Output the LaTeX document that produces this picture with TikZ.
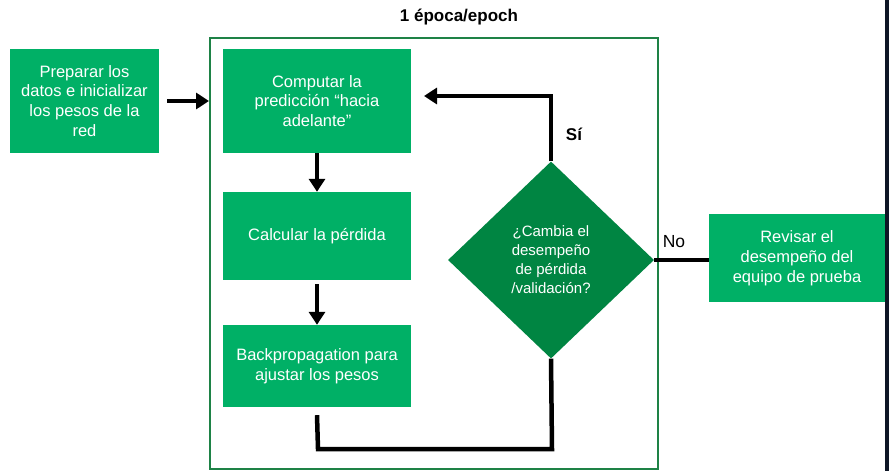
\documentclass[tikz,border=0pt]{standalone}
\usepackage{fontspec}
\setmainfont{Liberation Sans}
\usetikzlibrary{arrows.meta,shapes.geometric,calc}
\definecolor{boxgreen}{RGB}{0,176,102}
\definecolor{diagreen}{RGB}{0,133,66}
\definecolor{framegreen}{RGB}{30,130,70}
\definecolor{edgedark}{RGB}{14,22,38}
\tikzset{
  stepbox/.style={fill=boxgreen, text=white, align=center, inner sep=0pt,
    font=\fontsize{16.5}{19.8}\selectfont},
  flow/.style={line width=4.5pt, draw=black},
  flowarrow/.style={flow, -{Triangle[width=16pt,length=13pt]}},
}
\begin{document}
\begin{tikzpicture}[x=1pt,y=-1pt]
\useasboundingbox (0,0) rectangle (889,471);
\fill[white] (0,0) rectangle (889,471);
\fill[edgedark] (885,0) rectangle (889,471);
% title
\node[font=\bfseries\fontsize{17}{19}\selectfont] (title) at (459,17) {1 época/epoch};
% frame
\draw[framegreen, line width=2.5pt] (210,38) rectangle (658,469);
% boxes
\node[stepbox, minimum width=149pt, minimum height=104pt] (prep) at (84.5,101)
  {Preparar los\\datos e inicializar\\los pesos de la\\red};
\node[stepbox, minimum width=188pt, minimum height=104pt] (comp) at (317,101)
  {Computar la\\predicción “hacia\\adelante”};
\node[stepbox, minimum width=188pt, minimum height=88pt] (calc) at (317,236)
  {Calcular la pérdida};
\node[stepbox, minimum width=188pt, minimum height=82pt] (back) at (317,366)
  {Backpropagation para\\ajustar los pesos};
\node[stepbox, minimum width=176pt, minimum height=88pt] (rev) at (797,258)
  {Revisar el\\desempeño del\\equipo de prueba};
% diamond
\node[diamond, fill=diagreen, text=white, align=center, inner sep=0pt,
  minimum width=206pt, minimum height=197pt, aspect=1.05,
  font=\fontsize{15}{19}\selectfont] (dec) at (551,260)
  {¿Cambia el\\desempeño\\de pérdida\\/validación?};
% connectors
\coordinate (inA) at (167,101);
\coordinate (inB) at (209,101);
\draw[flowarrow] (inA) -- (inB);
\draw[flowarrow] (comp.south) -- (calc.north);
\draw[flowarrow] ($(calc.south)+(0,4)$) -- (back.north);
\coordinate (loopL) at (318,449);
\coordinate (loopR) at (552,449);
\coordinate (yesTop) at (551,96);
\coordinate (yesEnd) at (424,96);
\draw[flow] ($(back.south)+(0,8)$) -- (loopL) -- (loopR) -- (dec.south);
\draw[flowarrow] (dec.north) -- (yesTop) -- (yesEnd);
\draw[flow] (dec.east) -- (dec.east -| rev.west);
% labels
\node[font=\bfseries\fontsize{17}{19}\selectfont] (si) at (574,134) {Sí};
\node[font=\fontsize{17.5}{19}\selectfont] (no) at (674,242) {No};
\end{tikzpicture}
\end{document}
